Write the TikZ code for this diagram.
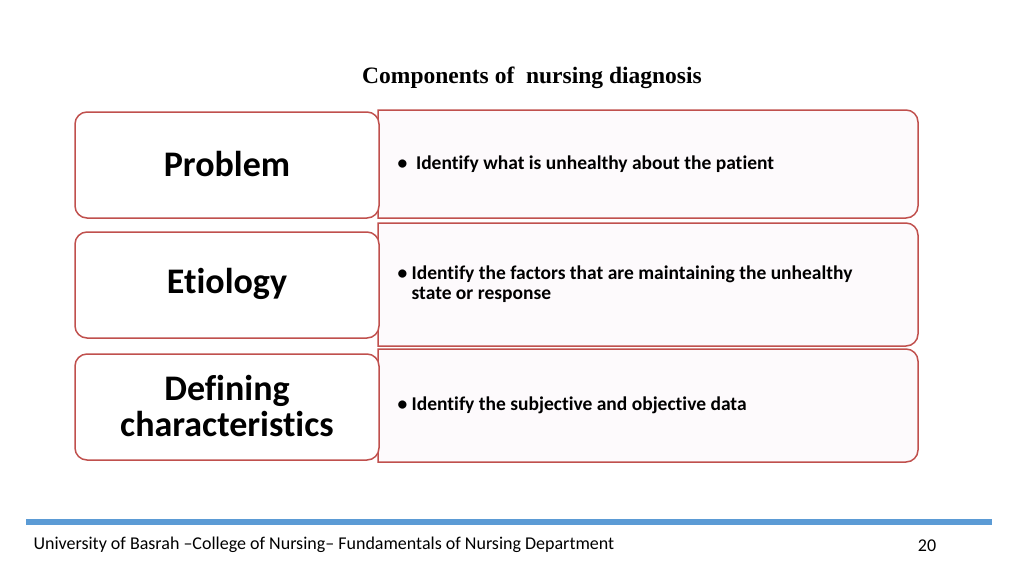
\documentclass[tikz,border=0pt]{standalone}
\usepackage{fontspec}
\setmainfont[Ligatures=NoCommon]{Carlito}
\newfontfamily\serifb{Liberation Serif}
\definecolor{bord}{HTML}{C0504D}
\definecolor{rfill}{HTML}{FDFAFC}
\definecolor{barblue}{HTML}{5B9BD5}
\begin{document}
\begin{tikzpicture}[x=1pt,y=-1pt,
  lbox/.style={draw=bord,line width=1.5pt,fill=white,rounded corners=12pt},
  rbox/.style={draw=bord,line width=1.5pt,fill=rfill},
  ltext/.style={font=\fontsize{36}{40}\selectfont\bfseries,align=center},
  rtext/.style={font=\fontsize{19.5}{23}\selectfont\bfseries,align=left,anchor=west}]
\useasboundingbox (0,0) rectangle (1024,576);
\node[font=\serifb\fontsize{23.5}{26}\selectfont\bfseries] (title) at (532,78) {Components of\ \ nursing diagnosis};
% right boxes
\foreach \n/\t/\b in {r1/110/218,r2/223/346,r3/349/462}{
  \draw[rbox] (378,\t) [rounded corners=12pt] -- (918,\t) -- (918,\b) [sharp corners] -- (378,\b) -- cycle;
  \coordinate (\n) at (378,{(\t+\b)/2});
}
% left boxes
\draw[lbox] (75,112) rectangle (379,218);
\draw[lbox] (75,232) rectangle (379,338);
\draw[lbox] (75,354) rectangle (379,460);
\node[ltext] (p) at (227,164) {Problem};
\node[ltext] (e) at (227,284) {Etiology};
\node[ltext] (d) at (227,406) {Defining\\[-4pt]characteristics};
\node[rtext] (t1) at (394,164) {\textbullet\ \ Identify what is unhealthy about the patient};
\node[rtext] (t2) at (394,284) {\textbullet\ Identify the factors that are maintaining the unhealthy\\[-3pt]\phantom{\textbullet\ }state or response};
\node[rtext] (t3) at (394,405) {\textbullet\ Identify the subjective and objective data};
\draw[barblue,line width=6pt] (26,522) -- (992,522);
\node[anchor=west,font=\fontsize{18}{21}\selectfont] (f) at (30,545) {University of Basrah --College of Nursing-- Fundamentals of Nursing Department};
\node[font=\fontsize{18}{21}\selectfont] (pg) at (927,546) {20};
\end{tikzpicture}
\end{document}
